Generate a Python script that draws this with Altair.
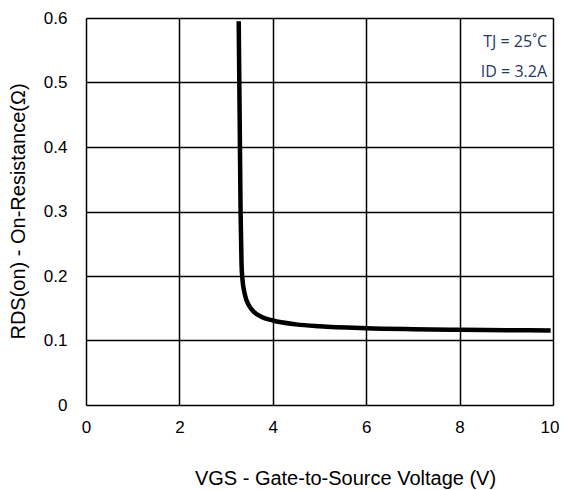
import altair as alt
import pandas as pd

# Curve
vgs = [3.27, 3.29, 3.31, 3.33, 3.35, 3.40, 3.50, 3.60, 3.75, 4.0, 4.5, 5.0, 6.0, 7.0, 8.0, 9.0, 9.95]
rds = [0.595, 0.45, 0.30, 0.22, 0.195, 0.172, 0.153, 0.144, 0.137, 0.131, 0.125, 0.122, 0.119, 0.1175, 0.1165, 0.116, 0.1155]

x_ticks = [0, 2, 4, 6, 8, 10]
y_ticks = [0, 0.1, 0.2, 0.3, 0.4, 0.5, 0.6]
notes = ["TJ = 25˚C", "ID = 3.2A"]

df = pd.DataFrame({"vgs": vgs, "rds": rds})

x_enc = alt.X(
    "vgs:Q",
    scale=alt.Scale(domain=[0, 10], nice=False, zero=False),
    axis=alt.Axis(
        values=x_ticks,
        title="VGS - Gate-to-Source Voltage (V)",
        ticks=False,
        domain=False,
        grid=True,
        gridColor="black",
        gridWidth=1.5,
        gridOpacity=1,
        labelFont="Liberation Sans",
        labelFontSize=17,
        labelColor="black",
        labelPadding=14,
        labelFlush=False,
        labelAlign={"condition": {"test": "datum.value == 10", "value": "right"}, "value": "center"},
        labelOffset={"condition": {"test": "datum.value == 10", "value": 6}, "value": 0},
        titleFont="Liberation Sans",
        titleFontSize=20,
        titleFontWeight="normal",
        titleColor="black",
        titleX=259,
        titleY=79,
        titleBaseline="alphabetic",
        titleAnchor="middle",
    ),
)
y_enc = alt.Y(
    "rds:Q",
    scale=alt.Scale(domain=[0, 0.6], nice=False, zero=False),
    axis=alt.Axis(
        values=y_ticks,
        title="RDS(on) - On-Resistance(Ω)",
        ticks=False,
        domain=False,
        grid=True,
        gridColor="black",
        gridWidth=1.5,
        gridOpacity=1,
        labelFont="Liberation Sans",
        labelFontSize=17,
        labelColor="black",
        labelPadding=19,
        labelFlush=False,
        labelExpr="datum.value == 0 ? '0' : format(datum.value, '.1f')",
        titleFont="Liberation Sans",
        titleFontSize=20,
        titleFontWeight="normal",
        titleColor="black",
        titleAngle=270,
        titleX=-62,
        titleY=193,
        titleAlign="center",
        titleBaseline="alphabetic",
    ),
)

line = alt.Chart(df).mark_line(
    color="black", strokeWidth=4.5, interpolate="monotone", strokeCap="butt"
).encode(x=x_enc, y=y_enc)

note_df = pd.DataFrame({"t": notes})


def note(i, ypx):
    return alt.Chart(note_df.iloc[[i]]).mark_text(
        align="right", baseline="alphabetic", font="Open Sans", fontSize=16, color="#1F3864"
    ).encode(text="t:N", x=alt.value(461), y=alt.value(ypx))


chart = alt.layer(line, note(0, 29), note(1, 59)).properties(
    width=467,
    height=387,
    autosize=alt.AutoSizeParams(type="none"),
    padding={"left": 78, "top": 10, "right": 6, "bottom": 84},
).configure_view(stroke="black", strokeWidth=1.5).configure(background="white")

chart.save("out.html", embed_options={"renderer": "svg", "actions": False})
